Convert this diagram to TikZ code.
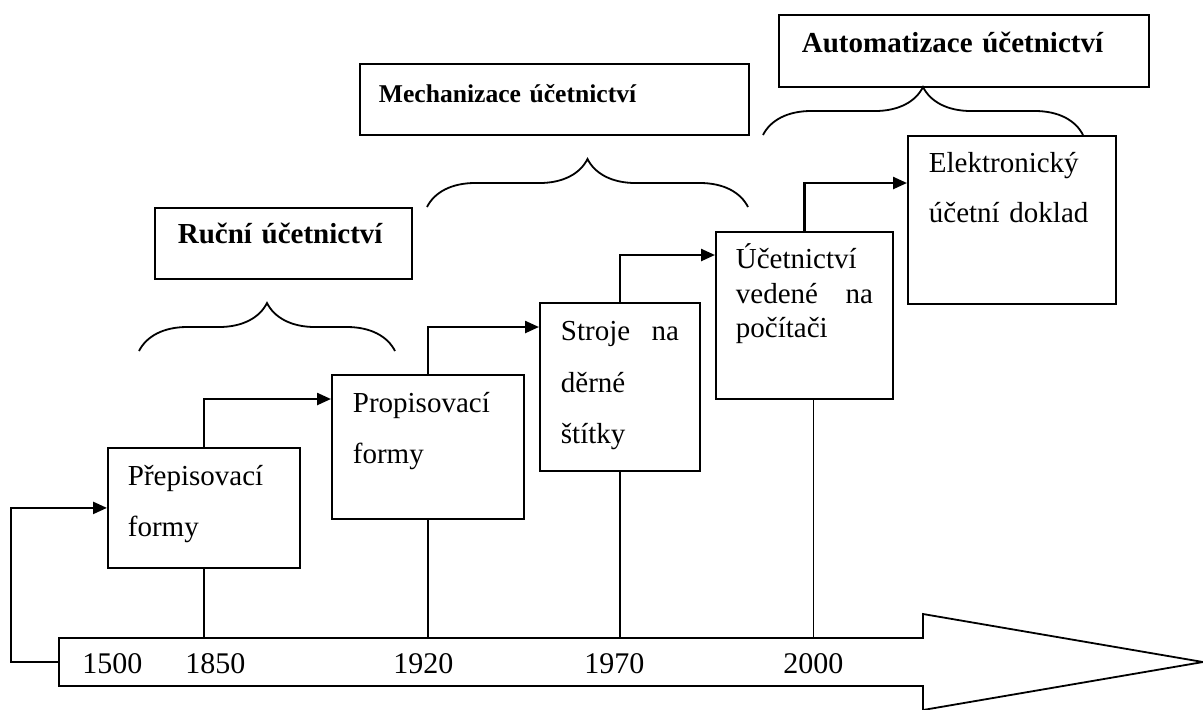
\documentclass[tikz,border=0pt]{standalone}
\usepackage{fontspec}
\setmainfont{Liberation Serif}
\usetikzlibrary{arrows.meta, positioning, decorations.pathreplacing}

\begin{document}
\begin{tikzpicture}[x=0.5pt, y=-0.5pt,
    stage/.style={rectangle, draw, line width=0.9pt, anchor=north west, inner ysep=0pt,
                  align=left, font=\fontsize{14.5}{25.5}\selectfont},
    era/.style={rectangle, draw, line width=0.9pt, anchor=north west, inner ysep=0pt,
                align=left, font=\bfseries\fontsize{14.5}{17}\selectfont},
    year/.style={anchor=base west, inner sep=0pt, font=\fontsize{15}{18}\selectfont},
    flow/.style={-{Triangle[length=7pt, width=6pt]}, line width=1.2pt},
    yearline/.style={line width=0.75pt},
    brc/.style={decorate, decoration={brace, amplitude=24pt}, line width=0.9pt}]

    \useasboundingbox (0,0) rectangle (1203,709);

    % Time axis
    \draw[line width=0.9pt] (59,638) -- (923,638) -- (923,614) -- (1203,662)
        -- (923,710) -- (923,686) -- (59,686) -- cycle;
    \coordinate (tl) at (59,638);
    \coordinate (tw) at (59,662);

    % Years
    \node[year] (y1500) at (82,673) {1500};
    \node[year] (y1850) at (185,673) {1850};
    \node[year] (y1920) at (393,673) {1920};
    \node[year] (y1970) at (584,673) {1970};
    \node[year] (y2000) at (783,673) {2000};

    % Stages
    \node[stage, inner xsep=10pt, text width=76pt, text height=19pt, text depth=41pt]
        (b1) at (107,447) {Přepisovací\\formy};
    \node[stage, inner xsep=10.5pt, text width=75pt, text height=19pt, text depth=53pt]
        (b2) at (331,374) {Propisovací\\formy};
    \node[stage, inner xsep=10.5pt, text width=59pt, text height=19pt, text depth=65pt,
          font=\fontsize{14.5}{25.75}\selectfont]
        (b3) at (539,302) {Stroje \hfill na\\děrné\\štítky};
    \node[stage, inner xsep=10pt, text width=68.5pt, text height=18.5pt, text depth=65pt,
          font=\fontsize{14.5}{17.25}\selectfont]
        (b4) at (715,231) {Účetnictví\\vedené \hfill na\\počítači};
    \node[stage, inner xsep=10.5pt, text width=83pt, text height=18.5pt, text depth=65.5pt,
          font=\fontsize{14.5}{25}\selectfont]
        (b5) at (907,135) {Elektronický\\účetní doklad};

    % Eras
    \node[era, inner xsep=11.5pt, text width=105.5pt, text height=18pt, text depth=17.5pt]
        (manual) at (154,207) {Ruční účetnictví};
    \node[era, inner xsep=9.5pt, text width=175.5pt, text height=19.5pt, text depth=16pt,
          font=\bfseries\fontsize{12.8}{15}\selectfont]
        (mechan) at (359,63) {Mechanizace účetnictví};
    \node[era, inner xsep=11.5pt, text width=162pt, text height=19pt, text depth=17pt]
        (automat) at (778,14) {Automatizace účetnictví};

    % Braces
    \draw[brc] (139,351) -- (395,351);
    \draw[brc] (427,207) -- (748,207);
    \draw[brc] (763,135) -- (1083,135);

    % Arrows
    \draw[flow] (tw) -- ++(-48,0) |- (b1.west);
    \draw[flow] (b1.north) |- ([yshift=-12.5pt]b2.north west);
    \draw[flow] (b2.north) |- ([yshift=-12.5pt]b3.north west);
    \draw[flow] (b3.north) |- ([yshift=-12pt]b4.north west);
    \draw[flow] (b4.north) |- ([yshift=-24pt]b5.north west);

    % Year lines
    \draw[yearline] (b1.south) -- (b1.south |- tl);
    \draw[yearline] (b2.south) -- (b2.south |- tl);
    \draw[yearline] (b3.south) -- (b3.south |- tl);
    \draw[yearline] ([xshift=4.5pt]b4.south) -- ([xshift=4.5pt]b4.south |- tl);
\end{tikzpicture}
\end{document}
